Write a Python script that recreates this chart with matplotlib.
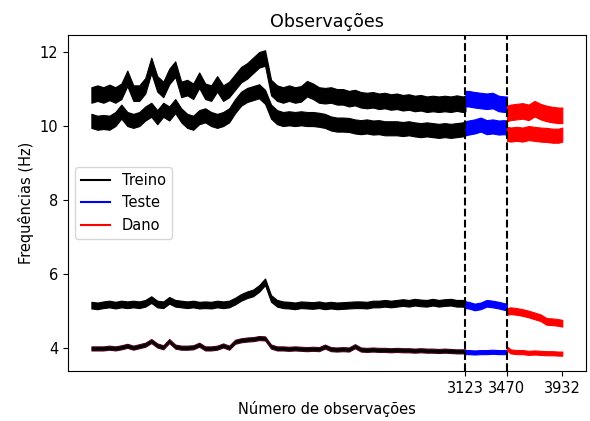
import numpy as np
import matplotlib
matplotlib.use("Agg")
import matplotlib.pyplot as plt
from matplotlib.lines import Line2D

# observation index of each read sample (every 50 observations)
x_treino = np.r_[np.arange(0, 3101, 50), 3123]
x_teste = np.r_[3123, np.arange(3150, 3451, 50), 3470]
x_dano = np.r_[3470, np.arange(3500, 3901, 50), 3932]
ticks_x = [3123, 3470, 3932]

# mode 1 (upper, ~10.8 Hz)
f1_treino = [10.85, 10.9, 10.85, 10.92, 10.85, 10.95, 11.3, 10.9, 10.9, 11.1,
             11.65, 11.15, 11.0, 11.35, 11.55, 11.0, 11.05, 10.95, 11.25, 10.95,
             10.9, 11.15, 10.9, 11.0, 11.2, 11.4, 11.5, 11.65, 11.8, 11.85,
             11.05, 10.9, 10.85, 10.9, 10.85, 10.88, 11.02, 10.95, 10.85, 10.83,
             10.85, 10.8, 10.8, 10.75, 10.78, 10.72, 10.7, 10.72, 10.68, 10.7,
             10.66, 10.68, 10.64, 10.66, 10.62, 10.64, 10.6, 10.62, 10.6, 10.62,
             10.6, 10.63, 10.6, 10.62]
f1_teste = [10.75, 10.75, 10.72, 10.7, 10.68, 10.7, 10.62, 10.6, 10.6]
f1_dano = [10.35, 10.38, 10.4, 10.42, 10.38, 10.48, 10.4, 10.35, 10.32, 10.3, 10.3]

# mode 2 (~10.1 Hz)
f2_treino = [10.15, 10.1, 10.12, 10.1, 10.2, 10.4, 10.2, 10.15, 10.2, 10.35,
             10.45, 10.25, 10.45, 10.35, 10.55, 10.3, 10.15, 10.1, 10.25, 10.3,
             10.2, 10.15, 10.2, 10.3, 10.55, 10.75, 10.85, 10.9, 10.95, 10.8,
             10.4, 10.25, 10.2, 10.22, 10.2, 10.22, 10.2, 10.2, 10.18, 10.15,
             10.08, 10.05, 10.05, 10.04, 10.0, 9.98, 10.0, 9.97, 9.98, 9.95,
             9.95, 9.95, 9.93, 9.95, 9.92, 9.9, 9.92, 9.9, 9.88, 9.9,
             9.88, 9.9, 9.92, 9.95]
f2_teste = [9.95, 9.97, 10.0, 10.05, 9.98, 10.0, 9.97, 9.98, 9.95]
f2_dano = [9.8, 9.78, 9.8, 9.78, 9.82, 9.8, 9.78, 9.77, 9.75, 9.75, 9.78]

# mode 3 (~5.2 Hz)
f3_treino = [5.17, 5.15, 5.18, 5.2, 5.17, 5.2, 5.18, 5.2, 5.18, 5.22,
             5.32, 5.2, 5.18, 5.3, 5.22, 5.2, 5.18, 5.2, 5.17, 5.18,
             5.17, 5.2, 5.18, 5.2, 5.28, 5.38, 5.45, 5.5, 5.62, 5.8,
             5.35, 5.22, 5.18, 5.17, 5.15, 5.18, 5.17, 5.16, 5.18, 5.15,
             5.17, 5.15, 5.16, 5.17, 5.18, 5.18, 5.17, 5.2, 5.2, 5.22,
             5.2, 5.22, 5.24, 5.22, 5.25, 5.23, 5.22, 5.25, 5.22, 5.24,
             5.25, 5.22, 5.22, 5.2]
f3_teste = [5.18, 5.17, 5.12, 5.15, 5.22, 5.2, 5.17, 5.13, 5.12]
f3_dano = [5.0, 5.02, 5.0, 4.97, 4.93, 4.88, 4.83, 4.73, 4.72, 4.7, 4.68]

# mode 4 (~4.0 Hz)
f4_treino = [4.0, 4.0, 4.0, 4.02, 4.0, 4.03, 4.07, 4.02, 4.06, 4.1,
             4.2, 4.08, 4.03, 4.2, 4.05, 4.02, 4.02, 4.03, 4.1, 4.0,
             4.0, 4.02, 4.08, 4.02, 4.18, 4.22, 4.24, 4.25, 4.28, 4.27,
             4.05, 4.0, 4.0, 3.99, 4.0, 3.99, 3.98, 3.99, 3.98, 4.05,
             3.98, 3.97, 3.98, 3.97, 4.06, 3.97, 3.96, 3.97, 3.96, 3.96,
             3.95, 3.96, 3.95, 3.95, 3.94, 3.95, 3.94, 3.94, 3.93, 3.94,
             3.93, 3.92, 3.92, 3.92]
f4_teste = [3.9, 3.9, 3.89, 3.9, 3.9, 3.91, 3.9, 3.9, 3.91]
f4_dano = [4.0, 3.92, 3.9, 3.9, 3.88, 3.89, 3.88, 3.87, 3.87, 3.86, 3.86]

# noise half-width of each mode (Hz)
ruido = [0.21, 0.19, 0.09, 0.055]

plt.rcParams['font.size'] = 10.5
fig, ax = plt.subplots(figsize=(5.9, 4.21), dpi=100)
fig.subplots_adjust(left=0.115, right=0.993, top=0.917, bottom=0.119)

modos = [(f1_treino, f1_teste, f1_dano), (f2_treino, f2_teste, f2_dano),
         (f3_treino, f3_teste, f3_dano), (f4_treino, f4_teste, f4_dano)]
for k, ((tr, te, da), hw) in enumerate(zip(modos, ruido)):
    segs = [(x_treino, tr, 'black'), (x_teste, te, 'blue'), (x_dano, da, 'red')]
    for xs, ys, cor in segs:
        ys = np.array(ys)
        # lowest mode shows a dark red fringe under the black training band
        edge = '#4a0018' if (k == 3 and cor == 'black') else cor
        ax.fill_between(xs, ys - hw, ys + hw, facecolor=cor, edgecolor=edge, lw=0.8)

ax.axvline(3123, color='black', ls='--', lw=1.5)
ax.axvline(3470, color='black', ls='--', lw=1.5)

ax.set_xticks(ticks_x)
ax.set_yticks([4, 6, 8, 10, 12])
ax.set_title('Observações')
ax.set_xlabel('Número de observações')
ax.set_ylabel('Frequências (Hz)')

handles = [Line2D([], [], color='black', lw=1.5),
           Line2D([], [], color='blue', lw=1.5),
           Line2D([], [], color='red', lw=1.5)]
ax.legend(handles, ['Treino', 'Teste', 'Dano'], loc='center left')

fig.savefig('out.png', dpi=100)
